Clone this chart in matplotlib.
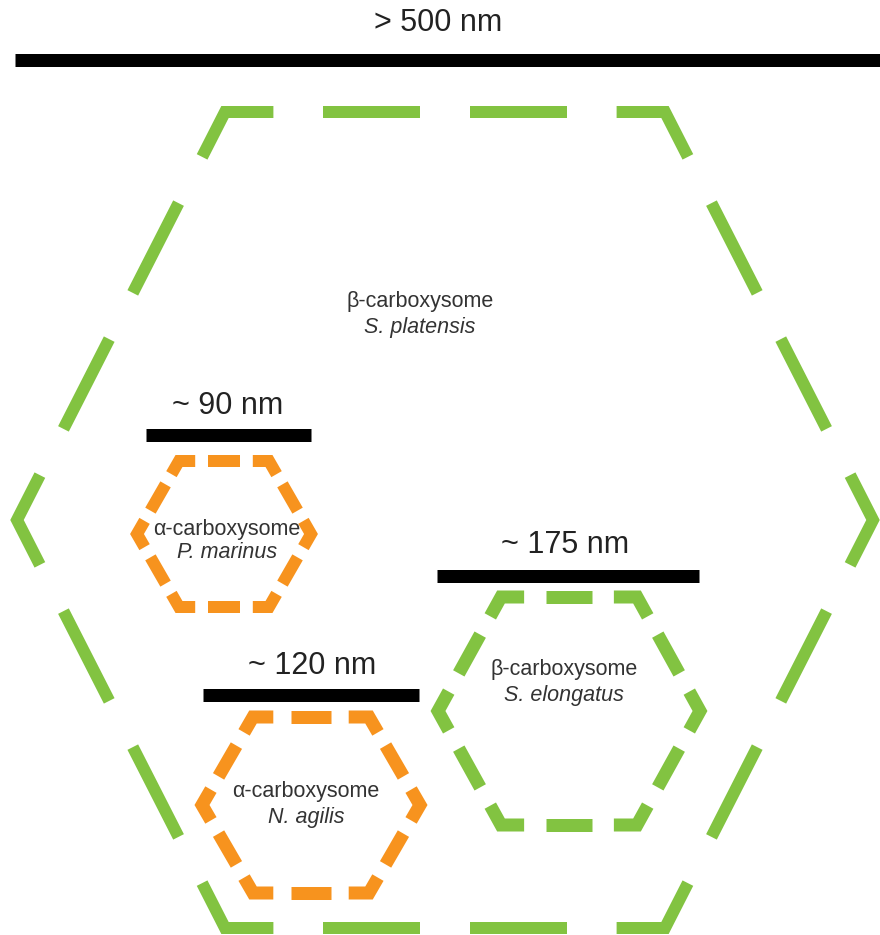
import numpy as np
import matplotlib
matplotlib.use("Agg")
import matplotlib.pyplot as plt

plt.rcParams['font.family'] = ['Liberation Sans', 'DejaVu Sans']

# hexagons (pixel units, y grows downward)
hex_names = ['S. platensis', 'P. marinus', 'S. elongatus', 'N. agilis']
hex_cx = [445, 224, 569, 311]
hex_cy = [520, 534, 711, 805]
hex_w = [428, 87, 131, 109]       # centre to side vertex
hex_tw = [220, 45, 68, 58]        # half length of top/bottom edge
hex_h = [408, 73, 114, 88]        # centre to top edge
hex_periods = [3, 2, 2, 2]        # dash periods per edge
hex_dash = [0.66, 0.72, 0.68, 0.70]
hex_lw = [12, 12, 13, 13]
hex_colors = ['#82C341', '#F7931E', '#82C341', '#F7931E']

# labels inside the hexagons
label_type = ['β-carboxysome', 'α-carboxysome', 'β-carboxysome', 'α-carboxysome']
label_x = [420, 227, 564, 306]
label_y1 = [302, 530, 670, 792]
label_y2 = [328, 552, 695, 817]

# scale bars
bar_text = ['> 500 nm', '~ 90 nm', '~ 175 nm', '~ 120 nm']
bar_x0 = [15, 146, 437, 203]
bar_x1 = [885, 311, 699, 419]
bar_y = [60, 435, 576, 695]
bar_text_x = [438, 228, 565, 312]
bar_text_y = [23, 406, 545, 666]

PX = 72 / 100  # points per pixel


def hex_vertices(cx, cy, w, tw, h):
    return np.array([(cx - w, cy), (cx - tw, cy - h), (cx + tw, cy - h),
                     (cx + w, cy), (cx + tw, cy + h), (cx - tw, cy + h)], float)


def draw_dashed_hex(ax, verts, n, frac, lw, color):
    k = len(verts)
    for i in range(k):
        a, b = verts[i], verts[(i + 1) % k]
        vec = b - a
        L = np.hypot(*vec)
        u = vec / L
        p = L / n
        d = frac * p
        # full dashes along the edge
        for j in range(1, n):
            s, e = j * p - d / 2, j * p + d / 2
            seg = np.array([a + u * s, a + u * e])
            ax.plot(seg[:, 0], seg[:, 1], color=color, lw=lw * PX,
                    solid_capstyle='butt')
        # corner piece around vertex b
        c = verts[(i + 2) % k]
        vec2 = c - b
        L2 = np.hypot(*vec2)
        d2 = frac * L2 / n
        pts = np.array([b - u * d / 2, b, b + vec2 / L2 * d2 / 2])
        ax.plot(pts[:, 0], pts[:, 1], color=color, lw=lw * PX,
                solid_capstyle='butt', solid_joinstyle='miter')


fig = plt.figure(figsize=(8.8, 9.35), dpi=100)
ax = fig.add_axes([0, 0, 1, 1])
ax.set_xlim(0, 880)
ax.set_ylim(935, 0)
ax.axis('off')

for i in range(len(hex_names)):
    v = hex_vertices(hex_cx[i], hex_cy[i], hex_w[i], hex_tw[i], hex_h[i])
    draw_dashed_hex(ax, v, hex_periods[i], hex_dash[i], hex_lw[i], hex_colors[i])
    ax.text(label_x[i], label_y1[i], label_type[i], ha='center', va='center',
            fontsize=15.5, color='#333333')
    ax.text(label_x[i], label_y2[i], hex_names[i], ha='center', va='center',
            fontsize=15.5, color='#333333', style='italic')

for i in range(len(bar_text)):
    ax.plot([bar_x0[i], bar_x1[i]], [bar_y[i], bar_y[i]], color='black',
            lw=13 * PX, solid_capstyle='butt')
    ax.text(bar_text_x[i], bar_text_y[i], bar_text[i], ha='center', va='center',
            fontsize=22, color='#222222')

fig.savefig('out.png', dpi=100, facecolor='white')
